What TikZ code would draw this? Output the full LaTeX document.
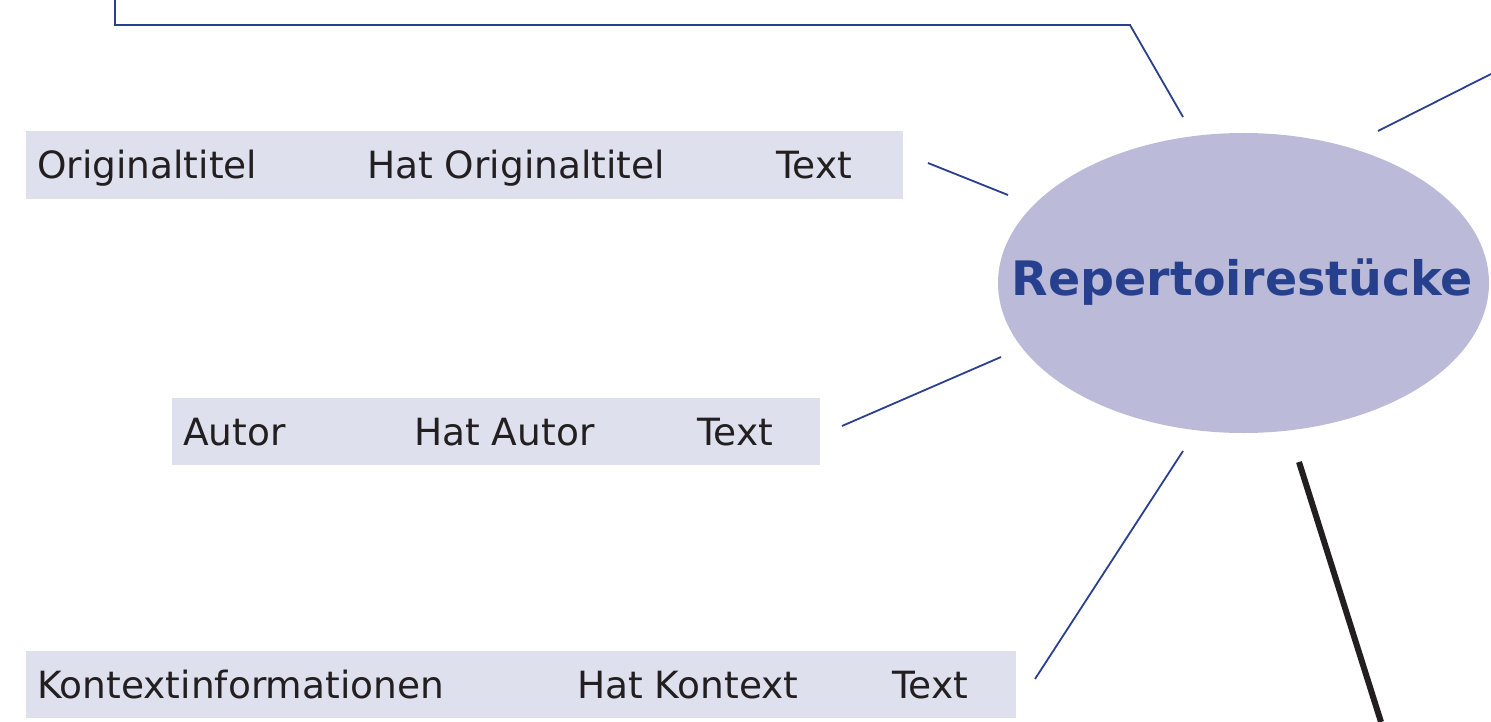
\documentclass[tikz,border=0pt]{standalone}
\usepackage{fontspec}
\setmainfont{DejaVu Sans}
\usetikzlibrary{shapes.geometric}
\definecolor{linkblue}{HTML}{2B3F8F}
\definecolor{titleblue}{HTML}{27408E}
\definecolor{ovalfill}{HTML}{BBBBD9}
\definecolor{rowfill}{HTML}{DFE0EE}
\definecolor{inkblack}{HTML}{231F20}
\tikzset{
  link/.style={draw=linkblue, line width=1.8pt},
  heavylink/.style={draw=inkblack, line width=6pt},
  rowbox/.style={fill=rowfill, draw=none, inner sep=0pt},
  rowtext/.style={anchor=base west, inner sep=0pt, font=\fontsize{37.5}{44}\selectfont, text=inkblack},
  hub/.style={ellipse, fill=ovalfill, draw=none, inner sep=0pt,
    minimum width=491pt, minimum height=300pt},
  hubtext/.style={anchor=base, inner sep=0pt, font=\bfseries\fontsize{47.5}{56}\selectfont, text=titleblue}
}
\begin{document}
\begin{tikzpicture}[x=1pt, y=-1pt]
  \useasboundingbox (0,0) rectangle (1491,722);

  % central concept
  \node[hub] (hub) at (1243.5,283) {};
  \node[hubtext] (hublabel) at (1242.5,295) {Repertoirestücke};

  % property rows
  \node[rowbox, minimum width=877pt, minimum height=68pt] (rowA) at (464.5,165) {};
  \node[rowtext] (a1) at (37,178.5) {Originaltitel};
  \node[rowtext] (a2) at (367,178.5) {Hat Originaltitel};
  \node[rowtext] (a3) at (776,178.5) {Text};

  \node[rowbox, minimum width=648pt, minimum height=67pt] (rowB) at (496,431.5) {};
  \node[rowtext] (b1) at (183,445) {Autor};
  \node[rowtext] (b2) at (414,445) {Hat Autor};
  \node[rowtext] (b3) at (697,445) {Text};

  \node[rowbox, minimum width=990pt, minimum height=67pt] (rowC) at (521,684.5) {};
  \node[rowtext] (c1) at (37,698) {Kontextinformationen};
  \node[rowtext] (c2) at (577,698) {Hat Kontext};
  \node[rowtext] (c3) at (892,698) {Text};

  % connector end points
  \coordinate (topstart) at (115,0);
  \coordinate (topcorner1) at (115,25);
  \coordinate (topcorner2) at (1130,25);
  \coordinate (topend) at (1183,117);
  \coordinate (neA) at (1378,131);
  \coordinate (neB) at (1491,74);
  \coordinate (wA) at (928,163);
  \coordinate (wB) at (1008,195);
  \coordinate (swA) at (842,426);
  \coordinate (swB) at (1001,357);
  \coordinate (sA) at (1035,679);
  \coordinate (sB) at (1183,451);
  \coordinate (kA) at (1299,462);
  \coordinate (kB) at (1381,722);

  % connectors
  \draw[link] (topstart) -- (topcorner1) -- (topcorner2) -- (topend);
  \draw[link] (neA) -- (neB);
  \draw[link] (wA) -- (wB);
  \draw[link] (swA) -- (swB);
  \draw[link] (sA) -- (sB);
  \draw[heavylink] (kA) -- (kB);
\end{tikzpicture}
\end{document}
